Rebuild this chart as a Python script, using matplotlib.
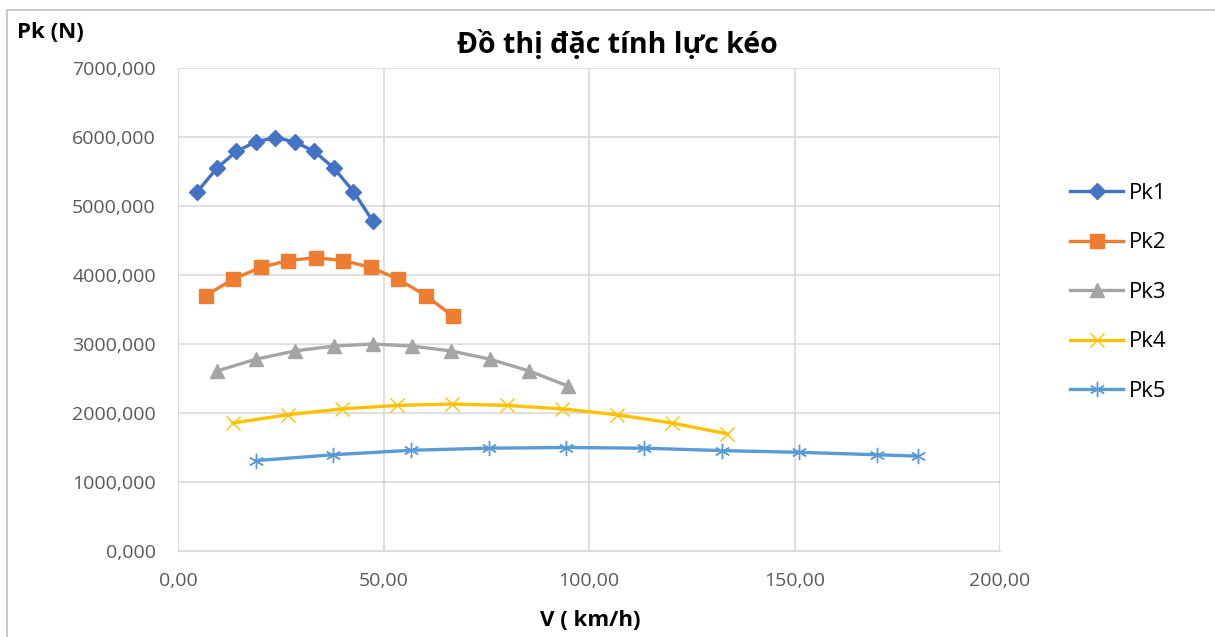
import matplotlib.pyplot as plt
import matplotlib.ticker as mticker
from matplotlib.patches import Rectangle

plt.rcParams['font.family'] = ['Open Sans', 'DejaVu Sans']

# data
v1 = [4.74, 9.48, 14.2, 18.9, 23.7, 28.4, 33.2, 37.9, 42.7, 47.4]
pk1 = [5210, 5550, 5790, 5930, 5990, 5930, 5790, 5550, 5210, 4780]
v2 = [6.7, 13.4, 20.1, 26.8, 33.5, 40.2, 46.9, 53.6, 60.3, 67.0]
pk2 = [3700, 3940, 4110, 4210, 4250, 4210, 4110, 3940, 3700, 3400]
v3 = [9.49, 19.0, 28.5, 38.0, 47.4, 56.9, 66.4, 75.9, 85.4, 94.9]
pk3 = [2610, 2780, 2900, 2970, 3000, 2970, 2900, 2780, 2610, 2390]
v4 = [13.35, 26.7, 40.0, 53.4, 66.7, 80.1, 93.4, 106.8, 120.1, 133.5]
pk4 = [1855, 1975, 2060, 2110, 2130, 2110, 2060, 1975, 1855, 1700]
v5 = [18.9, 37.8, 56.7, 75.6, 94.5, 113.4, 132.3, 151.2, 170.1, 180.0]
pk5 = [1310, 1395, 1460, 1490, 1500, 1490, 1455, 1430, 1395, 1375]

labels = ['Pk1', 'Pk2', 'Pk3', 'Pk4', 'Pk5']
colors = ['#4472C4', '#ED7D31', '#A5A5A5', '#FFC000', '#5B9BD5']

W, H = 1215, 637
fig = plt.figure(figsize=(W / 100, H / 100), dpi=100)
ax = fig.add_axes([178 / W, 1 - 551 / H, (1000 - 178) / W, (551 - 68) / H])

fig.patches.append(Rectangle((7 / W, -0.1), 1.2, 1 - 10 / H + 0.1, transform=fig.transFigure,
                             fill=False, edgecolor='#BFBFBF', linewidth=1.2))

ax.plot(v1, pk1, color=colors[0], lw=2.4, marker='D', ms=8, label=labels[0])
ax.plot(v2, pk2, color=colors[1], lw=2.4, marker='s', ms=10, label=labels[1])
ax.plot(v3, pk3, color=colors[2], lw=2.4, marker='^', ms=10, label=labels[2])
ax.plot(v4, pk4, color=colors[3], lw=2.4, marker='x', ms=10, mew=1.0, label=labels[3])
ax.plot(v5, pk5, color=colors[4], lw=2.4, marker=(6, 2, 0), ms=11, mew=1.0, label=labels[4])

ax.set_xlim(0, 200)
ax.set_ylim(0, 7000)
ax.xaxis.set_major_locator(mticker.MultipleLocator(50))
ax.yaxis.set_major_locator(mticker.MultipleLocator(1000))
ax.xaxis.set_major_formatter(mticker.FuncFormatter(lambda x, p: f'{x:.2f}'.replace('.', ',')))
ax.yaxis.set_major_formatter(mticker.FuncFormatter(lambda y, p: f'{y:.3f}'.replace('.', ',')))
ax.grid(True, color='#D9D9D9', lw=1.2)
ax.set_axisbelow(True)
for s in ['top', 'right']:
    ax.spines[s].set_visible(False)
ax.spines['left'].set_color('#D9D9D9')
ax.spines['bottom'].set_color('#D9D9D9')
ax.tick_params(length=0, labelsize=14, labelcolor='#595959')
ax.tick_params(axis='y', pad=16)
ax.tick_params(axis='x', pad=15)

fig.text(617 / W, 1 - 45 / H, 'Đồ thị đặc tính lực kéo', ha='center', va='center',
         fontsize=20.5, fontweight='bold')
fig.text(17 / W, 1 - 33 / H, 'Pk (N)', ha='left', va='center', fontsize=16, fontweight='bold')
fig.text(590 / W, 1 - 620 / H, 'V ( km/h)', ha='center', va='center', fontsize=16, fontweight='bold')

ax.legend(loc='upper left', bbox_to_anchor=(1050 / W, 1 - 163 / H), bbox_transform=fig.transFigure,
          frameon=False, fontsize=16, handlelength=2.4, labelspacing=1.28, handletextpad=0.25)

fig.savefig('out.png', dpi=100)
